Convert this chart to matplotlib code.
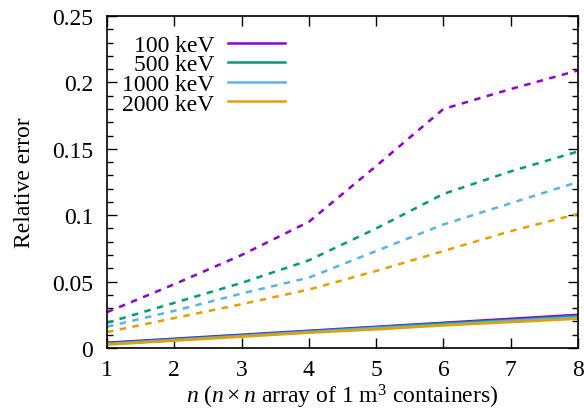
#
# Relative error vs. array size n, for several photon energies
#
import numpy as np
import matplotlib
matplotlib.use('agg')
import matplotlib.pyplot as plt
from matplotlib.ticker import MultipleLocator, FuncFormatter

plt.rcParams.update({
    "font.family": "Liberation Serif",
    "font.size": 17,
    "mathtext.fontset": "custom",
    "mathtext.rm": "Liberation Serif",
    "mathtext.it": "Liberation Serif:italic",
})

n = [1, 2, 3, 4, 5, 6, 7, 8]
labels = ["100 keV", "500 keV", "1000 keV", "2000 keV"]
colors = ["#9400d3", "#009e73", "#56b4e9", "#e69f00"]

# solid curves
solid_100 = [0.004, 0.007, 0.010, 0.013, 0.016, 0.019, 0.022, 0.025]
solid_500 = [0.0035, 0.0065, 0.0095, 0.0125, 0.0155, 0.0185, 0.021, 0.024]
solid_1000 = [0.003, 0.006, 0.009, 0.012, 0.015, 0.0175, 0.0205, 0.023]
solid_2000 = [0.0025, 0.0055, 0.0085, 0.0115, 0.014, 0.017, 0.0195, 0.022]

# dashed curves
dashed_100 = [0.027, 0.048, 0.070, 0.095, 0.137, 0.180, 0.195, 0.209]
dashed_500 = [0.019, 0.034, 0.049, 0.066, 0.090, 0.116, 0.133, 0.148]
dashed_1000 = [0.016, 0.028, 0.041, 0.053, 0.073, 0.093, 0.109, 0.125]
dashed_2000 = [0.012, 0.0225, 0.033, 0.044, 0.058, 0.073, 0.088, 0.101]

solids = [solid_100, solid_500, solid_1000, solid_2000]
dashes = [dashed_100, dashed_500, dashed_1000, dashed_2000]

fig = plt.figure(figsize=(5.84, 4.10), dpi=100)
ax = fig.add_axes([0.1832, 0.1488, 0.8065, 0.8097])

for s, lab, c in zip(solids, labels, colors):
    ax.plot(n, s, '-', color=c, lw=1.8, label=lab)
for d, c in zip(dashes, colors):
    ax.plot(n, d, color=c, lw=1.8, ls=(0, (2.6, 2.6)))

ax.set_xlim(1, 8)
ax.set_ylim(0, 0.25)
ax.xaxis.set_major_locator(MultipleLocator(1))
ax.yaxis.set_major_locator(MultipleLocator(0.05))
ax.yaxis.set_minor_locator(MultipleLocator(0.01))
ax.yaxis.set_major_formatter(FuncFormatter(lambda v, p: "%g" % round(v, 4)))
ax.tick_params(which="both", direction="in", top=True, right=True, width=1)
ax.tick_params(which="major", length=7)
ax.tick_params(axis="y", which="major", pad=10)
ax.tick_params(axis="x", which="major", pad=8)
ax.tick_params(which="minor", length=4)
for sp in ax.spines.values():
    sp.set_linewidth(1.2)

ax.set_xlabel(r"$n$ ($n \times n$ array of 1 m$^3$ containers)", labelpad=1)
ax.set_ylabel("Relative error", labelpad=12)

ax.legend(loc="upper right", bbox_to_anchor=(0.378, 0.945), frameon=False,
          markerfirst=False, handlelength=2.4, labelspacing=-0.08,
          handletextpad=0.6, borderaxespad=0.0, borderpad=0.0)

plt.savefig("out.png", format="png")
plt.close()
